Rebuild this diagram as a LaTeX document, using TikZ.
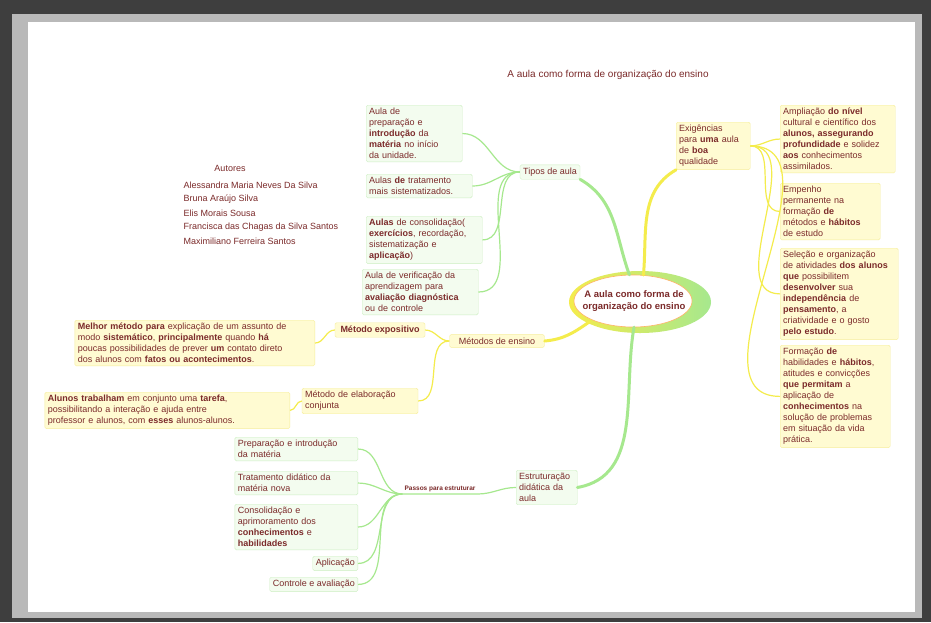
\documentclass[tikz,border=0pt]{standalone}
\usepackage{fontspec}
\setmainfont{Liberation Sans}
\usetikzlibrary{shapes.geometric}
\definecolor{txtred}{HTML}{7B2A2A}
\definecolor{lgreen}{HTML}{A6E88E}
\definecolor{lyellow}{HTML}{F4EC4C}
\definecolor{gfill}{HTML}{F3FCEF}
\definecolor{gdraw}{HTML}{CDEFC2}
\definecolor{yfill}{HTML}{FFFBD2}
\definecolor{ydraw}{HTML}{F6EE9C}
\definecolor{frame}{HTML}{3E3E3E}
\tikzset{
  every node/.style={text=txtred, font=\fontsize{9}{11}\selectfont},
  gbox/.style={draw=gdraw, fill=gfill, rounded corners=1.5pt, align=left, anchor=north west, inner sep=3pt},
  ybox/.style={draw=ydraw, fill=yfill, rounded corners=1.5pt, align=left, anchor=north west, inner sep=3pt},
  gline/.style={lgreen, line width=1.2pt},
  yline/.style={lyellow, line width=1.2pt},
  gmain/.style={lgreen, line width=3pt, line cap=round},
  ymain/.style={lyellow, line width=3pt, line cap=round},
}
\begin{document}
\begin{tikzpicture}[x=1pt, y=-1pt]
\useasboundingbox (0,0) rectangle (931,622);
% fundo
\fill[frame] (0,0) rectangle (931,622);
\fill[gray!55] (12,14) rectangle (922,618);
\fill[white] (28,22) rectangle (915,612);

% titulo e autores
\node[font=\fontsize{10}{12}\selectfont] (titulo) at (608,75) {A aula como forma de organização do ensino};
\node (autores) at (230,168) {Autores};
\node[anchor=west] (a1) at (180,185) {Alessandra Maria Neves Da Silva};
\node[anchor=west] (a2) at (180,199) {Bruna Araújo Silva};
\node[anchor=west] (a3) at (180,213) {Elis Morais Sousa};
\node[anchor=west] (a4) at (180,227) {Francisca das Chagas da Silva Santos};
\node[anchor=west] (a5) at (180,241) {Maximiliano Ferreira Santos};

% centro
\shade[left color=lyellow, right color=lgreen] (640,302) ellipse [x radius=71, y radius=31];
\fill[white, draw=orange!60, line width=0.6pt] (633,301) ellipse [x radius=59, y radius=26];
\node[ellipse, minimum width=116, minimum height=52, align=center, inner sep=0pt, font=\fontsize{9.5}{11.5}\selectfont\bfseries] (ctr) at (634,301) {A aula como forma de\\organização do ensino};

% Tipos de aula
\node[gbox, anchor=center, minimum width=60] (tipos) at (550,172) {Tipos de aula};
\node[gbox, text width=90] (t1) at (366,105) {Aula de\\preparação e\\\textbf{introdução} da\\\textbf{matéria} no início\\da unidade.};
\node[gbox, text width=100] (t2) at (366,174) {Aulas \textbf{de} tratamento\\mais sistematizados.};
\node[gbox, text width=110] (t3) at (366,216) {\textbf{Aulas} de consolidação(\\\textbf{exercícios}, recordação,\\sistematização e\\\textbf{aplicação})};
\node[gbox, text width=110] (t4) at (362,269) {Aula de verificação da\\aprendizagem para\\\textbf{avaliação diagnóstica}\\ou de controle};
\foreach \t in {t1,t2,t3,t4}
  \draw[gline] (tipos.west) to[out=180, in=0] (\t.east);

% Metodos de ensino
\node[ybox, anchor=center, minimum width=95] (metodos) at (497,341) {Métodos de ensino};
\node[ybox, anchor=center, minimum width=90] (mexp) at (380,330) {\textbf{Método expositivo}};
\node[ybox, anchor=center, text width=110] (melab) at (360,401) {Método de elaboração\\conjunta};
\node[ybox, anchor=north east, text width=234] (dexp) at (315,320) {\textbf{Melhor método para} explicação de um assunto de\\modo \textbf{sistemático}, \textbf{principalmente} quando \textbf{há}\\poucas possibilidades de prever \textbf{um} contato direto\\dos alunos com \textbf{fatos ou acontecimentos}.};
\node[ybox, anchor=north east, text width=239] (delab) at (290,392) {\textbf{Alunos trabalham} em conjunto uma \textbf{tarefa},\\possibilitando a interação e ajuda entre\\professor e alunos, com \textbf{esses} alunos-alunos.};
\draw[yline] (metodos.west) to[out=180, in=0] (mexp.east);
\draw[yline] (metodos.west) to[out=180, in=0] (melab.east);
\draw[yline] (mexp.west) to[out=180, in=0] (dexp.east);
\draw[yline] (melab.west) to[out=180, in=0] (delab.east);

% Estruturacao didatica da aula
\node[gbox, text width=55] (estr) at (516,470) {Estruturação\\didática da\\aula};
\node[anchor=south, font=\fontsize{6.5}{8}\selectfont\bfseries, inner sep=2pt] (passos) at (440,494) {Passos para estruturar};
\node[gbox, anchor=north east, text width=117] (p1) at (358,437) {Preparação e introdução\\da matéria};
\node[gbox, anchor=north east, text width=117] (p2) at (358,471) {Tratamento didático da\\matéria nova};
\node[gbox, anchor=north east, text width=117] (p3) at (358,504) {Consolidação e\\aprimoramento dos\\\textbf{conhecimentos} e\\\textbf{habilidades}};
\node[gbox, anchor=north east] (p4) at (358,556) {Aplicação};
\node[gbox, anchor=north east] (p5) at (358,577) {Controle e avaliação};
\draw[gline] (estr.west) to[out=180, in=0] (passos.south east) -- (passos.south west);
\foreach \p in {p1,p2,p3,p4,p5}
  \draw[gline] (passos.south west) to[out=180, in=0] (\p.east);

% Exigencias
\node[ybox, text width=68] (exig) at (676,122) {Exigências\\para \textbf{uma} aula\\de \textbf{boa}\\qualidade};
\node[ybox, text width=109] (e1) at (780,105) {Ampliação \textbf{do nível}\\cultural e científico dos\\\textbf{alunos, assegurando}\\\textbf{profundidade} e solidez\\\textbf{aos} conhecimentos\\assimilados.};
\node[ybox, text width=94] (e2) at (780,183) {Empenho\\permanente na\\formação \textbf{de}\\métodos e \textbf{hábitos}\\de estudo};
\node[ybox, text width=112] (e3) at (780,248) {Seleção e organização\\de atividades \textbf{dos alunos}\\\textbf{que} possibilitem\\\textbf{desenvolver} sua\\\textbf{independência} de\\\textbf{pensamento}, a\\criatividade e o gosto\\\textbf{pelo estudo}.};
\node[ybox, text width=104] (e4) at (780,345) {Formação \textbf{de}\\habilidades e \textbf{hábitos},\\atitudes e convicções\\\textbf{que permitam} a\\aplicação de\\\textbf{conhecimentos} na\\solução de problemas\\em situação da vida\\prática.};
\foreach \e in {e1,e2,e3,e4}
  \draw[yline] (exig.east) to[out=0, in=180] (\e.west);

% ramos principais
\draw[gmain] (ctr.100) to[out=110, in=-30] (tipos.south east);
\draw[gmain] (ctr.south) to[out=-100, in=10] (estr.east);
\draw[ymain] (ctr.205) to[out=215, in=5] (metodos.east);
\draw[ymain] (ctr.70) to[out=85, in=-150] (exig.south west);
\end{tikzpicture}
\end{document}
